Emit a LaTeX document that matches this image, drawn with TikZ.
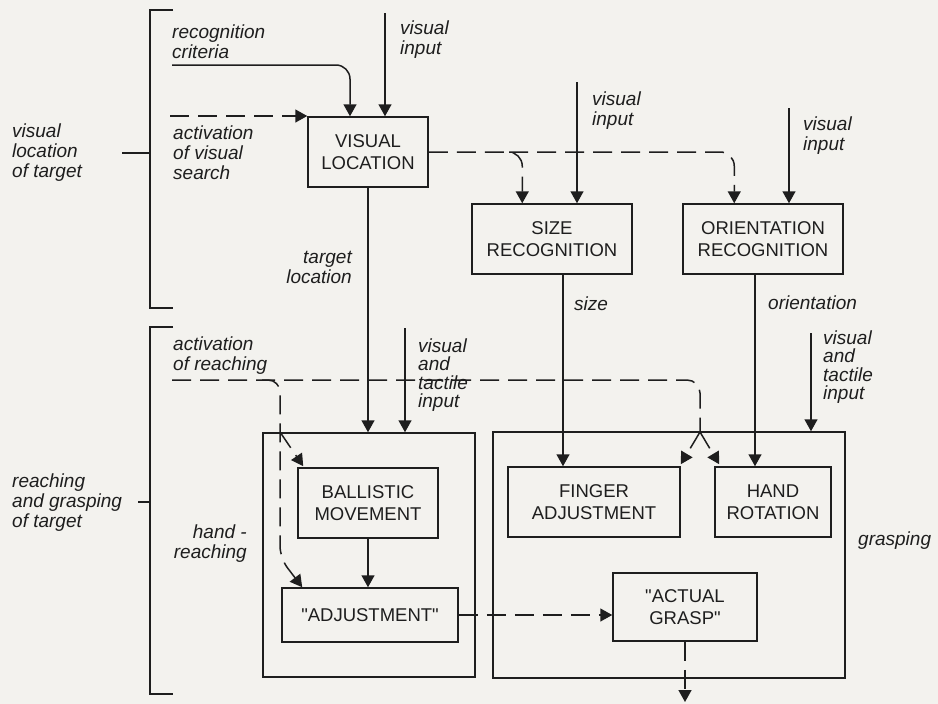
\documentclass[tikz,border=0pt]{standalone}
\usepackage{fontspec}
\setmainfont{Liberation Sans}
\usetikzlibrary{arrows.meta}
\definecolor{ink}{RGB}{30,30,30}
\definecolor{paper}{RGB}{243,242,238}
\newcommand\boxfnt{\fontsize{18.5}{22}\selectfont}
\newcommand\lblfnt{\fontsize{19}{20}\selectfont\itshape}
\newcommand\lblfntb{\fontsize{19}{18.5}\selectfont\itshape}
\newcommand\qq{\textquotedbl}
\tikzset{
  ln/.style={draw=ink, line width=1.5pt},
  arr/.style={ln, -{Triangle[width=13pt,length=12pt]}},
  dsh/.style={ln, dash pattern=on 19pt off 9pt},
  darr/.style={dsh, -{Triangle[width=13pt,length=12pt]}},
  blk/.style={ln, inner sep=0pt, font=\boxfnt, align=center, text=ink},
  lbl/.style={inner sep=0pt, font=\lblfnt, align=left, text=ink},
  lblb/.style={inner sep=0pt, font=\lblfntb, align=left, text=ink},
}
\begin{document}
\begin{tikzpicture}[x=1pt,y=-1pt]
\fill[paper] (0,0) rectangle (938,704);
\useasboundingbox (0,0) rectangle (938,704);

% boxes
\node[blk, minimum width=120pt, minimum height=70pt] (vl) at (368,152) {VISUAL\\LOCATION};
\node[blk, minimum width=160pt, minimum height=70pt] (sr) at (552,239) {SIZE\\RECOGNITION};
\node[blk, minimum width=160pt, minimum height=70pt] (orr) at (763,239) {ORIENTATION\\RECOGNITION};
\node[blk, minimum width=212pt, minimum height=244pt] (outL) at (369,555) {};
\node[blk, minimum width=352pt, minimum height=246pt] (outR) at (669,555) {};
\node[blk, minimum width=140pt, minimum height=70pt] (bm) at (368,503) {BALLISTIC\\MOVEMENT};
\node[blk, minimum width=176pt, minimum height=54pt] (adj) at (370,615) {\qq ADJUSTMENT\qq};
\node[blk, minimum width=172pt, minimum height=70pt] (fa) at (594,502) {FINGER\\ADJUSTMENT};
\node[blk, minimum width=116pt, minimum height=70pt] (hr) at (773,502) {HAND\\ROTATION};
\node[blk, minimum width=144pt, minimum height=68pt] (ag) at (685,607) {\qq ACTUAL\\GRASP\qq};

% brackets
\coordinate (b1a) at (173,10); \coordinate (b1b) at (150,10);
\coordinate (b1c) at (150,308); \coordinate (b1d) at (173,308);
\draw[ln] (b1a) -- (b1b) -- (b1c) -- (b1d);
\coordinate (t1a) at (122,153); \coordinate (t1b) at (150,153);
\draw[ln] (t1a) -- (t1b);
\coordinate (b2a) at (173,327); \coordinate (b2b) at (150,327);
\coordinate (b2c) at (150,694); \coordinate (b2d) at (173,694);
\draw[ln] (b2a) -- (b2b) -- (b2c) -- (b2d);
\coordinate (t2a) at (138,502); \coordinate (t2b) at (150,502);
\draw[ln] (t2a) -- (t2b);

% labels
\node[lbl, anchor=west] (l1) at (12,153) {visual\\location\\of target};
\node[lbl, anchor=west] (l2) at (172,42) {recognition\\criteria};
\node[lbl, anchor=west] (l3) at (400,40) {visual\\input};
\node[lbl, anchor=west] (l4) at (173,153) {activation\\of visual\\search};
\node[lbl, anchor=east, align=right] (l5) at (352,267) {target\\location};
\node[lbl, anchor=west] (l6) at (592,111) {visual\\input};
\node[lbl, anchor=west] (l7) at (803,136) {visual\\input};
\node[lbl, anchor=west] (l8) at (574,304) {size};
\node[lbl, anchor=west] (l9) at (768,303) {orientation};
\node[lbl, anchor=west] (l10) at (173,356) {activation\\of reaching};
\node[lblb, anchor=west] (l11) at (418,375) {visual\\and\\tactile\\input};
\node[lblb, anchor=west] (l12) at (823,367) {visual\\and\\tactile\\input};
\node[lbl, anchor=west] (l13) at (12,503) {reaching\\and grasping\\of target};
\node[lbl, anchor=east, align=right] (l14) at (247,544) {hand -\\reaching};
\node[lbl, anchor=west] (l15) at (858,541) {grasping};

% top connectors
\coordinate (rcS) at (172,65);
\draw[arr, rounded corners=14pt] (rcS) -| ([xshift=-18pt]vl.north);
\coordinate (vi1) at (385,13);
\draw[arr] (vi1) -- (vi1 |- vl.north);
\coordinate (avs) at (170,116);
\draw[darr] (avs) -- (avs -| vl.west);
\coordinate (szIn) at ([xshift=51pt]sr.north west);
\coordinate (orIn) at ([xshift=52pt]orr.north west);
\draw[darr, rounded corners=14pt] (vl.east) -| (szIn);
\coordinate (brA) at (509,152);
\draw[darr, rounded corners=14pt] (brA) -| (orIn);
\coordinate (vi2) at (577,82);
\draw[arr] (vi2) -- (vi2 |- sr.north);
\coordinate (vi3) at (789,108);
\draw[arr] (vi3) -- (vi3 |- orr.north);
\coordinate (szOut) at ([xshift=11pt]sr.south);
\draw[arr] (szOut) -- (szOut |- fa.north);
\coordinate (orOut) at ([xshift=-8pt]orr.south);
\draw[arr] (orOut) -- (orOut |- hr.north);
\draw[arr] (vl.south) -- (vl.south |- outL.north);

% lower connectors
\coordinate (vt1) at (405,328);
\draw[arr] (vt1) -- (vt1 |- outL.north);
\coordinate (vt2) at (811,333);
\draw[arr] (vt2) -- (vt2 |- outR.north);
\draw[arr] (bm.south) -- (bm.south |- adj.north);
\draw[darr] (adj.east) -- (adj.east -| ag.west);
\coordinate (agEnd) at (685,702);
\draw[darr] (ag.south) -- (agEnd);

\coordinate (ar) at (172,380);
\coordinate (spl) at (700,432);
\draw[dsh, rounded corners=13pt] (ar) -| (spl);
\draw[darr] (spl) -- ([yshift=2pt]fa.north east);
\draw[darr] (spl) -- ([xshift=5pt,yshift=2pt]hr.north west);

\coordinate (hb0) at (262,380);
\coordinate (hbC) at (280,558);
\draw[darr, rounded corners=12pt] (hb0) -| (hbC) -- ([xshift=21pt]adj.north west);
\coordinate (hbB) at (280,432);
\draw[darr] (hbB) -- ([xshift=6pt,yshift=1pt]bm.north west);
\end{tikzpicture}
\end{document}
